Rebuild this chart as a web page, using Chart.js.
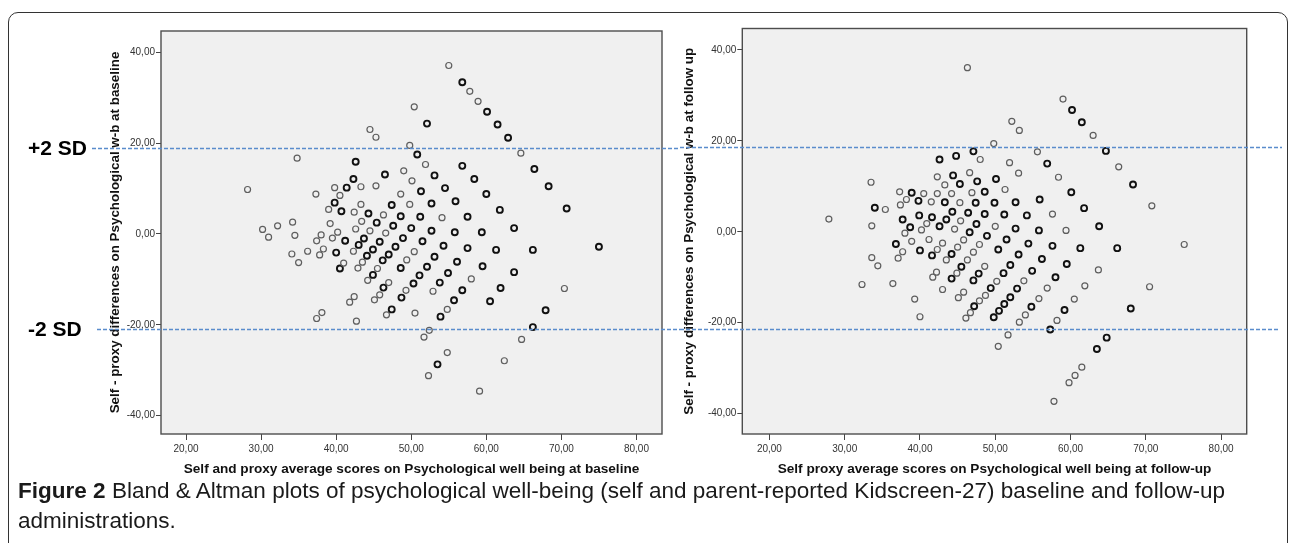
<!DOCTYPE html>
<html>
<head>
<meta charset="utf-8">
<script src="https://cdn.jsdelivr.net/npm/chart.js@4.4.1/dist/chart.umd.min.js"></script>
<style>
  html, body { margin: 0; padding: 0; background: #fff; }
  body { width: 1290px; height: 543px; position: relative; overflow: hidden; font-family: "Liberation Sans", Arial, sans-serif; }
  #frame { position: absolute; left: 8px; top: 12px; width: 1280px; height: 620px; border: 1.5px solid #333; border-radius: 10px; box-sizing: border-box; }
  #leftChart { position: absolute; left: 0; top: 0; }
  #rightChart { position: absolute; left: 680px; top: 0; }
  #caption { position: absolute; left: 18px; top: 476px; font-size: 22px; line-height: 30px; color: #1a1a1a;
             font-family: "Liberation Sans", Arial, sans-serif; white-space: nowrap; transform-origin: 0 0; }
  #caption span { display: inline-block; }
</style>
</head>
<body>
<div id="frame"></div>
<canvas id="leftChart" width="680" height="480"></canvas>
<canvas id="rightChart" width="610" height="480"></canvas>
<div id="caption"><span id="capLine"><b>Figure 2</b> Bland &amp; Altman plots of psychological well-being (self and parent-reported Kidscreen-27) baseline and follow-up</span><br><span>administrations.</span></div>
<script>
// tick labels shared by both panels
const xTicks = [20, 30, 40, 50, 60, 70, 80];
const yTicks = [-40, -20, 0, 20, 40];

// baseline: [mean of self and proxy, self - proxy]; "dark" = overplotted points
const baselineLight = [
  [55.0, 37.1], [57.8, 31.4], [58.9, 29.2], [50.4, 28.0], [44.5, 23.0], [45.3, 21.3], [49.8, 19.5], [64.6, 17.8],
  [34.8, 16.7], [51.9, 15.3], [49.0, 13.9], [50.1, 11.7], [45.3, 10.6], [39.8, 10.2], [43.3, 10.4], [37.3, 8.8],
  [48.6, 8.8], [40.5, 8.5], [43.3, 6.5], [49.8, 6.5], [39.0, 5.4], [42.4, 4.8], [46.3, 4.2], [54.1, 3.6],
  [43.4, 2.8], [39.2, 2.3], [34.2, 2.6], [32.2, 1.8], [30.2, 1.0], [31.0, -0.7], [34.5, -0.3], [42.6, 1.1],
  [44.5, 0.7], [38.0, -0.2], [40.2, 0.4], [37.4, -1.5], [39.5, -0.9], [46.6, 0.2], [38.3, -3.3], [36.2, -3.8],
  [42.3, -3.8], [50.4, -3.9], [37.8, -4.6], [34.1, -4.4], [49.4, -5.7], [35.0, -6.3], [43.5, -6.2], [41.0, -6.4],
  [42.9, -7.5], [45.5, -7.6], [44.2, -10.2], [47.0, -10.7], [58.0, -9.9], [70.4, -12.0], [49.3, -12.4], [52.9, -12.6],
  [45.8, -13.4], [45.1, -14.5], [42.4, -13.8], [41.8, -15.0], [46.7, -17.8], [50.5, -17.4], [54.8, -16.6], [38.1, -17.3],
  [37.4, -18.6], [42.7, -19.2], [52.4, -21.2], [51.7, -22.7], [64.7, -23.2], [54.8, -26.1], [62.4, -27.9], [52.3, -31.2],
  [59.1, -34.6], [28.2, 9.8]
];
const baselineDark = [
  [56.8, 33.4], [60.1, 26.9], [61.5, 24.1], [62.9, 21.2], [52.1, 24.3], [50.8, 17.5], [42.6, 15.9], [56.8, 15.0],
  [66.4, 14.3], [46.5, 13.1], [53.1, 12.9], [42.3, 12.1], [58.4, 12.1], [41.4, 10.2], [54.5, 10.1], [68.3, 10.5],
  [51.3, 9.4], [60.0, 8.8], [55.9, 7.2], [39.8, 6.9], [47.4, 6.4], [52.7, 6.7], [70.7, 5.6], [40.7, 5.0],
  [44.3, 4.5], [48.6, 3.9], [51.2, 3.8], [57.5, 3.8], [61.8, 5.3], [45.4, 2.5], [47.6, 1.8], [50.0, 1.3],
  [52.7, 0.7], [55.8, 0.4], [59.4, 0.4], [63.7, 1.3], [41.2, -1.5], [43.7, -1.0], [48.9, -0.9], [51.5, -1.6],
  [43.0, -2.4], [45.8, -1.7], [40.0, -4.1], [44.9, -3.4], [47.9, -2.8], [54.3, -2.6], [57.5, -3.1], [61.3, -3.5],
  [66.2, -3.5], [75.0, -2.8], [44.1, -4.8], [46.2, -5.8], [47.0, -4.5], [53.1, -5.0], [56.1, -6.1], [40.5, -7.6],
  [48.6, -7.5], [52.1, -7.2], [59.5, -7.1], [44.9, -9.0], [54.9, -8.6], [63.7, -8.4], [46.3, -11.8], [51.1, -9.1],
  [50.3, -10.9], [53.8, -10.7], [61.9, -11.9], [56.8, -12.4], [48.7, -14.0], [55.7, -14.6], [60.5, -14.8], [47.4, -16.6],
  [67.9, -16.8], [53.9, -18.2], [66.2, -20.5], [53.5, -28.7]
];

// follow-up
const followLight = [
  [46.3, 36.1], [59.0, 29.2], [63.0, 21.2], [66.4, 14.3], [70.8, 5.7], [75.1, -2.8], [52.2, 24.3], [53.2, 22.3],
  [49.8, 19.4], [48.0, 15.9], [55.6, 17.6], [51.9, 15.2], [53.1, 12.9], [58.4, 12.0], [46.6, 13.0], [42.3, 12.1],
  [43.3, 10.3], [33.5, 10.9], [37.3, 8.8], [40.5, 8.4], [42.3, 8.4], [44.2, 8.4], [46.9, 8.6], [51.3, 9.3],
  [38.2, 7.1], [41.5, 6.6], [45.3, 6.4], [35.4, 4.9], [37.4, 5.9], [45.4, 2.4], [57.6, 3.9], [27.9, 2.8],
  [33.6, 1.3], [40.9, 1.8], [40.2, 0.4], [38.0, -0.3], [44.6, 0.6], [50.0, 1.2], [59.4, 0.3], [38.9, -2.1],
  [41.2, -1.7], [43.0, -2.5], [42.3, -3.9], [37.7, -4.4], [37.1, -5.8], [45.8, -1.8], [45.0, -3.4], [43.5, -6.2],
  [47.9, -2.8], [47.1, -4.5], [46.3, -6.2], [63.7, -8.4], [56.9, -12.4], [61.9, -11.9], [70.5, -12.1], [34.4, -7.5],
  [32.3, -11.6], [36.4, -11.4], [41.7, -10.0], [42.2, -8.9], [43.0, -12.7], [44.9, -9.1], [48.6, -7.6], [45.1, -14.5],
  [45.8, -13.3], [50.2, -10.9], [48.7, -14.0], [47.9, -15.2], [46.7, -17.8], [46.1, -19.0], [53.8, -10.8], [54.0, -18.3],
  [53.2, -19.9], [55.8, -14.7], [58.2, -19.5], [60.5, -14.8], [51.7, -22.7], [50.4, -25.2], [61.5, -29.8], [60.6, -31.6],
  [59.8, -33.2], [57.8, -37.3], [39.3, -14.8], [40.0, -18.7], [33.6, -5.7]
];
const followDark = [
  [60.2, 26.8], [61.5, 24.1], [64.7, 17.8], [68.3, 10.4], [47.1, 17.7], [42.6, 15.9], [44.8, 16.7], [56.9, 15.0],
  [60.1, 8.7], [61.8, 5.2], [63.8, 1.2], [44.4, 12.4], [45.3, 10.5], [47.6, 11.1], [50.1, 11.6], [38.9, 8.6],
  [48.6, 8.8], [39.8, 6.8], [43.3, 6.5], [47.4, 6.4], [49.9, 6.4], [52.7, 6.5], [55.9, 7.1], [34.0, 5.3],
  [37.7, 2.7], [39.9, 3.6], [41.6, 3.2], [43.5, 2.7], [44.3, 4.4], [46.4, 4.2], [48.6, 3.9], [51.2, 3.8],
  [54.2, 3.6], [38.7, 1.0], [42.6, 1.2], [47.5, 1.7], [46.6, -0.1], [52.7, 0.7], [55.8, 0.3], [36.8, -2.7],
  [40.0, -4.1], [41.6, -5.2], [44.2, -4.9], [48.9, -0.9], [45.5, -7.7], [51.5, -1.7], [50.4, -3.9], [54.4, -2.6],
  [53.1, -5.0], [52.0, -7.3], [51.1, -9.1], [56.2, -6.0], [57.6, -3.1], [61.3, -3.6], [66.2, -3.6], [59.5, -7.1],
  [58.0, -10.0], [54.9, -8.6], [52.9, -12.5], [68.0, -16.9], [44.2, -10.3], [47.8, -9.2], [47.1, -10.7], [49.4, -12.4],
  [47.2, -16.4], [52.0, -14.4], [51.2, -15.9], [50.5, -17.4], [49.8, -18.8], [54.8, -16.5], [59.2, -17.2], [57.3, -21.5],
  [64.8, -23.3], [63.5, -25.8]
];

// +2 SD / -2 SD limits
const baselineLimits = [18.9, -21.0];
const followLimits = [18.7, -21.3];

const tickFont = { family: "'Liberation Sans', Arial, sans-serif", size: 10 };
const xTitleFont = { family: "'Liberation Sans', Arial, sans-serif", size: 13.6, weight: "bold" };
const yTitleFont = { family: "'Liberation Sans', Arial, sans-serif", size: 13.4, weight: "bold" };
const fmt = (v) => v.toFixed(2).replace(".", ",");
const toXY = (pairs) => pairs.map(([x, y]) => ({ x, y }));

// plot background, frame, limit lines and their labels
const panel = {
  id: "panel",
  beforeDraw(chart) {
    const { ctx, chartArea: a } = chart;
    ctx.save();
    ctx.fillStyle = "#f0f0f0";
    ctx.fillRect(a.left, a.top, a.right - a.left, a.bottom - a.top);
    ctx.restore();
  },
  beforeDatasetsDraw(chart) {
    const { ctx, chartArea: a } = chart;
    ctx.save();
    ctx.strokeStyle = "#4d4d4d";
    ctx.lineWidth = 1.4;
    ctx.strokeRect(a.left, a.top, a.right - a.left, a.bottom - a.top);
    ctx.restore();
  },
  afterDatasetsDraw(chart, args, opts) {
    const { ctx } = chart;
    const y = chart.scales.y;
    ctx.save();
    opts.lines.forEach((line, i) => {
      const py = Math.round(y.getPixelForValue(opts.limits[i])) + 0.5;
      ctx.strokeStyle = "#5a8ccc";
      ctx.lineWidth = 1.3;
      ctx.setLineDash([4, 2]);
      ctx.beginPath();
      ctx.moveTo(line[0], py);
      ctx.lineTo(line[1], py);
      ctx.stroke();
      if (opts.labels) {
        ctx.setLineDash([]);
        ctx.fillStyle = "#000";
        ctx.font = "bold 21px 'Liberation Sans', Arial, sans-serif";
        ctx.textBaseline = "middle";
        ctx.textAlign = "left";
        ctx.fillText(opts.labels[i], 28, py + 1);
      }
    });
    ctx.restore();
  }
};

function makePanel(canvasId, light, dark, cfg) {
  return new Chart(document.getElementById(canvasId), {
    type: "scatter",
    data: {
      datasets: [
        { data: toXY(light), borderColor: "#5e5e5e", backgroundColor: "rgba(0,0,0,0)", borderWidth: 1.2, pointRadius: 3 },
        { data: toXY(dark), borderColor: "#111", backgroundColor: "rgba(0,0,0,0)", borderWidth: 1.9, pointRadius: 3 }
      ]
    },
    options: {
      responsive: false,
      animation: false,
      events: [],
      layout: { padding: cfg.padding },
      plugins: {
        legend: { display: false },
        tooltip: { enabled: false },
        panel: { limits: cfg.limits, lines: cfg.lines, labels: cfg.labels }
      },
      scales: {
        x: {
          type: "linear",
          min: cfg.xMin,
          max: cfg.xMax,
          afterBuildTicks: (s) => { s.ticks = xTicks.map((v) => ({ value: v })); },
          afterFit: (s) => { s.height = 46; },
          border: { display: false },
          grid: { drawOnChartArea: false, tickLength: 6, color: "#444" },
          ticks: { padding: 3, color: "#333", font: tickFont, maxRotation: 0, callback: (v) => fmt(v) },
          title: { display: true, text: cfg.xTitle, font: xTitleFont, color: "#111", padding: { top: 0, bottom: 3 } }
        },
        y: {
          type: "linear",
          min: cfg.yMin,
          max: cfg.yMax,
          afterBuildTicks: (s) => { s.ticks = yTicks.map((v) => ({ value: v })); },
          afterFit: (s) => { s.width = cfg.yWidth; },
          border: { display: false },
          grid: { drawOnChartArea: false, tickLength: 5, color: "#444" },
          ticks: { padding: 1, color: "#333", font: tickFont, callback: (v) => fmt(v) },
          title: { display: true, text: cfg.yTitle, font: yTitleFont, color: "#111", padding: { top: cfg.yTitlePad, bottom: 0 } }
        }
      }
    },
    plugins: [panel]
  });
}

makePanel("leftChart", baselineLight, baselineDark, {
  padding: { left: 0, top: 31, right: 18, bottom: 0 },
  yWidth: 161,
  yTitlePad: 107,
  xMin: 16.67, xMax: 83.4,
  yMin: -44.03, yMax: 44.69,
  xTitle: "Self and proxy average scores on Psychological well being at baseline",
  yTitle: "Self - proxy differences on Psychological w-b at baseline",
  limits: baselineLimits,
  lines: [[92, 680], [97, 680]],
  labels: ["+2 SD", "-2 SD"]
});

makePanel("rightChart", followLight, followDark, {
  padding: { left: 0, top: 28.5, right: 43.3, bottom: 0 },
  yWidth: 62.3,
  yTitlePad: 1.5,
  xMin: 16.4, xMax: 83.4,
  yMin: -44.5, yMax: 44.73,
  xTitle: "Self proxy average scores on Psychological well being at follow-up",
  yTitle: "Self - proxy differences on Psychological w-b at follow up",
  limits: followLimits,
  lines: [[0, 602], [0, 598]],
  labels: null
});

// squeeze the caption so its first line ends where the reference's does
const caption = document.getElementById("caption");
const lineWidth = document.getElementById("capLine").getBoundingClientRect().width;
caption.style.transform = `scaleX(${1207 / lineWidth})`;
</script>
</body>
</html>
